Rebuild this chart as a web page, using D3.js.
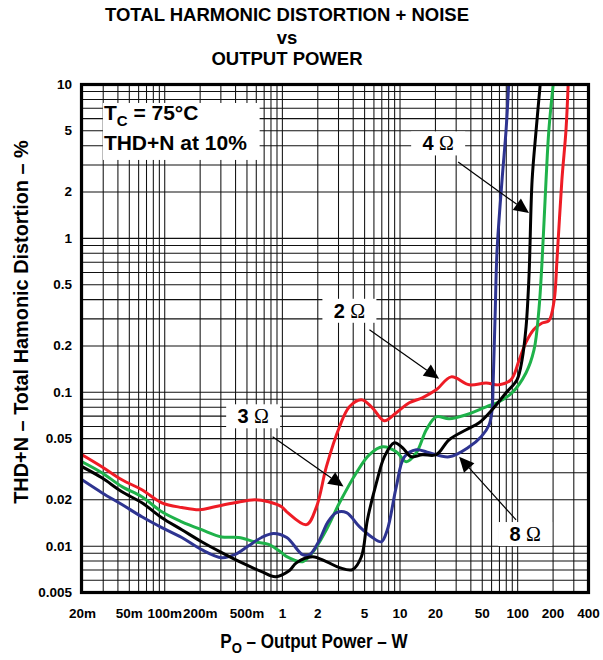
<!DOCTYPE html>
<html>
<head>
<meta charset="utf-8">
<script src="https://cdn.jsdelivr.net/npm/d3@7"></script>
<style>
  html, body { margin: 0; padding: 0; background: #fff; }
  svg { display: block; }
  text { font-family: "Liberation Sans", Arial, Helvetica, sans-serif; }
</style>
</head>
<body>
<div id="chart"></div>
<script>
// ---------- data ----------
const titleLines = ["TOTAL HARMONIC DISTORTION + NOISE", "vs", "OUTPUT POWER"];
const xTicks = [0.02, 0.05, 0.1, 0.2, 0.5, 1, 2, 5, 10, 20, 50, 100, 200, 400];
const xTickLabels = ["20m", "50m", "100m", "200m", "500m", "1", "2", "5", "10", "20", "50", "100", "200", "400"];
const yTicks = [10, 5, 2, 1, 0.5, 0.2, 0.1, 0.05, 0.02, 0.01, 0.005];
const yTickLabels = ["10", "5", "2", "1", "0.5", "0.2", "0.1", "0.05", "0.02", "0.01", "0.005"];

// 2 ohm (red)
const p2 = [0.02, 0.0295, 0.0437, 0.0646, 0.0954, 0.141, 0.200, 0.269, 0.397, 0.587, 0.771, 0.994, 1.10, 1.62, 1.97, 2.39, 3.09, 3.75, 4.74, 5.88, 7.43, 9.39, 12.1, 15.6, 20.5, 27.5, 39.1, 54.5, 70.2, 88.8, 104, 119, 139, 163, 186, 206, 218, 240, 260, 272];
const thd2 = [0.0390, 0.0326, 0.0268, 0.0231, 0.0190, 0.0177, 0.0171, 0.0179, 0.0190, 0.0199, 0.0193, 0.0179, 0.0166, 0.0137, 0.0179, 0.0326, 0.0593, 0.0799, 0.0887, 0.0787, 0.0648, 0.0731, 0.0848, 0.0914, 0.103, 0.125, 0.111, 0.114, 0.111, 0.120, 0.161, 0.210, 0.255, 0.280, 0.290, 0.39, 0.72, 2.38, 5.03, 10.5];
// 3 ohm (green)
const p3 = [0.02, 0.0295, 0.0437, 0.0646, 0.0954, 0.141, 0.208, 0.308, 0.429, 0.587, 0.771, 0.994, 1.10, 1.50, 1.82, 2.39, 3.09, 4.30, 5.55, 7.15, 9.39, 11.4, 13.9, 16.9, 20.5, 26.4, 36.9, 54.5, 70.2, 90.5, 119, 139, 153, 163, 176, 186, 204];
const thd3 = [0.0351, 0.0298, 0.0242, 0.0208, 0.0166, 0.0143, 0.0127, 0.0114, 0.0113, 0.0106, 0.0102, 0.00901, 0.00848, 0.00787, 0.00901, 0.0127, 0.0190, 0.0298, 0.0390, 0.0439, 0.0408, 0.0351, 0.0402, 0.0567, 0.0688, 0.0668, 0.0709, 0.0799, 0.0861, 0.0985, 0.133, 0.187, 0.341, 0.720, 2.38, 5.03, 10.5];
// 4 ohm (black)
const p4 = [0.02, 0.0295, 0.0437, 0.0646, 0.0954, 0.141, 0.208, 0.308, 0.455, 0.673, 0.884, 1.16, 1.33, 1.82, 2.39, 3.09, 3.98, 4.74, 5.33, 6.36, 7.43, 9.03, 10.6, 12.6, 15.6, 20.5, 26.4, 36.9, 47.5, 61.2, 80.5, 99.8, 110, 119, 126, 134, 145, 158];
const thd4 = [0.0326, 0.0276, 0.0224, 0.0190, 0.0152, 0.0127, 0.0106, 0.00901, 0.00775, 0.00678, 0.00629, 0.00690, 0.00775, 0.00848, 0.00787, 0.00720, 0.00699, 0.00848, 0.0147, 0.0256, 0.0378, 0.0466, 0.0433, 0.0378, 0.0390, 0.0390, 0.0488, 0.0567, 0.0629, 0.0764, 0.0985, 0.120, 0.161, 0.264, 0.558, 2.38, 5.03, 10.5];
// 8 ohm (blue)
const p8 = [0.02, 0.0295, 0.0437, 0.0646, 0.0954, 0.141, 0.208, 0.308, 0.397, 0.522, 0.673, 0.850, 1.10, 1.50, 1.72, 2.09, 2.44, 2.91, 3.54, 4.56, 5.88, 7.01, 7.88, 9.39, 11.0, 13.9, 17.9, 26.4, 39.1, 49.4, 57.8, 61.2, 62.5, 64.9, 67.5, 74.4, 80.5, 85];
const thd8 = [0.0268, 0.0221, 0.0185, 0.0154, 0.0131, 0.0113, 0.00942, 0.00836, 0.00874, 0.0100, 0.0113, 0.0120, 0.0113, 0.00874, 0.00874, 0.0109, 0.0141, 0.0164, 0.0164, 0.0133, 0.0113, 0.0106, 0.0127, 0.0242, 0.0378, 0.0420, 0.0402, 0.0378, 0.0439, 0.0510, 0.0611, 0.0764, 0.114, 0.307, 0.836, 2.38, 5.03, 10.5];

const seriesNames = ["2 Ω", "3 Ω", "8 Ω", "4 Ω"];
const seriesColors = ["#ee1c25", "#1fb24a", "#2e3491", "#000000"];

// annotation anchors in data units
const annotNumbers = ["2", "3", "4", "8"];
const annotLabelP = [3.75, 0.57, 21.3, 117];
const annotLabelT = [0.336, 0.0693, 4.11, 0.0119];
const annotStartP = [5.55, 0.834, 31.5, 97.9];
const annotStartT = [0.253, 0.0510, 3.11, 0.0147];
const annotTipP = [21.7, 3.34, 126, 32.1];
const annotTipT = [0.1215, 0.0242, 1.45, 0.0378];

const condLines = ["T", "C", " = 75°C", "THD+N at 10%"];
const xTitle = ["P", "O", " – Output Power – W"];
const yTitle = "THD+N – Total Hamonic Distortion – %";

// ---------- layout ----------
const W = 603, H = 660;
const L = 82, R = 588, T = 84, B = 592;

const svg = d3.select("#chart").append("svg").attr("width", W).attr("height", H);

const x = d3.scaleLog().domain([0.02, 400]).range([L, R]);
const y = d3.scaleLog().domain([0.005, 10]).range([B, T]);

// grid values
const xGrid = [];
[0.01, 0.1, 1, 10, 100].forEach(d => { for (let k = 1; k <= 9; k++) { const v = +(d * k).toPrecision(3); if (v >= 0.02 && v <= 400) xGrid.push(v); } });
const yGrid = [];
[0.001, 0.01, 0.1, 1].forEach(d => { for (let k = 1; k <= 9; k++) { const v = +(d * k).toPrecision(3); if (v >= 0.005 && v <= 10) yGrid.push(v); } });

// grid via axes
svg.append("g").attr("transform", `translate(0,${B})`)
  .call(d3.axisBottom(x).tickValues(xGrid).tickSize(-(B - T)).tickFormat(""))
  .call(g => g.select(".domain").remove())
  .call(g => g.selectAll("line").attr("stroke", "#111").attr("stroke-width", 1.05));
svg.append("g").attr("transform", `translate(${L},0)`)
  .call(d3.axisLeft(y).tickValues(yGrid).tickSize(-(R - L)).tickFormat(""))
  .call(g => g.select(".domain").remove())
  .call(g => g.selectAll("line").attr("stroke", "#111").attr("stroke-width", 1.05));

// tick labels via axes
svg.append("g").attr("transform", `translate(0,${B})`)
  .call(d3.axisBottom(x).tickValues(xTicks).tickSize(0).tickPadding(16).tickFormat((d, i) => xTickLabels[i]))
  .call(g => g.select(".domain").remove())
  .call(g => g.selectAll("text").attr("font-size", 13.5).attr("font-weight", "bold").attr("fill", "#000")
    .attr("font-family", '"Liberation Sans", Arial, sans-serif'));
svg.append("g").attr("transform", `translate(${L},0)`)
  .call(d3.axisLeft(y).tickValues(yTicks).tickSize(0).tickPadding(10).tickFormat((d, i) => yTickLabels[i]))
  .call(g => g.select(".domain").remove())
  .call(g => g.selectAll("text").attr("font-size", 13.5).attr("font-weight", "bold").attr("fill", "#000")
    .attr("font-family", '"Liberation Sans", Arial, sans-serif'));

// clip
svg.append("clipPath").attr("id", "plotclip").append("rect")
  .attr("x", L).attr("y", T).attr("width", R - L).attr("height", B - T);

// conditions box
const cb = svg.append("g");
cb.append("rect").attr("x", x(0.0301)).attr("y", y(7.53)).attr("width", x(0.647) - x(0.0301)).attr("height", y(3.21) - y(7.53)).attr("fill", "#fff");
const t1 = cb.append("text").attr("x", x(0.0301) + 1).attr("y", y(7.53) + 17).attr("font-size", 21).attr("font-weight", "bold");
t1.append("tspan").text(condLines[0]);
t1.append("tspan").attr("dy", 6).attr("font-size", 15).text(condLines[1]);
t1.append("tspan").attr("dy", -6).text(condLines[2]);
cb.append("text").attr("x", x(0.0301) + 1).attr("y", y(7.53) + 47).attr("font-size", 21).attr("font-weight", "bold").text(condLines[3]);

// curves (drawn red, green, blue, black)
const pSets = [p2, p3, p8, p4];
const tSets = [thd2, thd3, thd8, thd4];
const lineX = d3.line().x(d => x(d[0])).y(d => y(d[1])).curve(d3.curveCatmullRom.alpha(0.5));
const cg = svg.append("g").attr("clip-path", "url(#plotclip)");
pSets.forEach((ps, i) => {
  const pts = ps.map((p, j) => [p, tSets[i][j]]);
  cg.append("path").attr("d", lineX(pts)).attr("fill", "none")
    .attr("stroke", seriesColors[i]).attr("stroke-width", 3)
    .attr("stroke-linejoin", "round").attr("stroke-linecap", "round");
});

// frame
svg.append("rect").attr("x", L - 0.5).attr("y", T + 0.5).attr("width", R - L + 1).attr("height", B - T)
  .attr("fill", "none").attr("stroke", "#000").attr("stroke-width", 3.2);

// annotations
annotNumbers.forEach((n, i) => {
  const sx = x(annotStartP[i]), sy = y(annotStartT[i]);
  const tx = x(annotTipP[i]), ty = y(annotTipT[i]);
  const ang = Math.atan2(ty - sy, tx - sx);
  const hl = 15, hw = 7;
  const bx = tx - hl * Math.cos(ang), by = ty - hl * Math.sin(ang);
  svg.append("line").attr("x1", sx).attr("y1", sy).attr("x2", bx).attr("y2", by)
    .attr("stroke", "#000").attr("stroke-width", 1.2);
  const px = -Math.sin(ang), py = Math.cos(ang);
  svg.append("polygon").attr("points", [[tx, ty], [bx + hw * px, by + hw * py], [bx - hw * px, by - hw * py]].map(p => p.join(",")).join(" "))
    .attr("fill", "#000");
  const cx = x(annotLabelP[i]), cy = y(annotLabelT[i]);
  svg.append("rect").attr("x", cx - 27).attr("y", cy - 12).attr("width", 54).attr("height", 24).attr("fill", "#fff");
  const tt = svg.append("text").attr("x", cx).attr("y", cy + 7).attr("text-anchor", "middle").attr("font-size", 20);
  tt.append("tspan").attr("font-weight", "bold").text(n + " ");
  tt.append("tspan").attr("font-family", '"Liberation Serif", "Times New Roman", serif').text("Ω");
});

// title
const titleY = [21, 44, 65];
titleLines.forEach((s, i) => {
  svg.append("text").attr("x", 287).attr("y", titleY[i]).attr("text-anchor", "middle")
    .attr("font-size", 18.5).attr("font-weight", "bold").text(s);
});

// x title (slightly condensed)
const xt = svg.append("text").attr("transform", "translate(314,648) scale(0.875,1)").attr("text-anchor", "middle")
  .attr("font-size", 19.5).attr("font-weight", "bold");
xt.append("tspan").text(xTitle[0]);
xt.append("tspan").attr("dy", 5).attr("font-size", 15).text(xTitle[1]);
xt.append("tspan").attr("dy", -5).text(xTitle[2]);

// y title
svg.append("text").attr("transform", "translate(28,322) rotate(-90) scale(0.97,1)").attr("text-anchor", "middle")
  .attr("font-size", 20.5).attr("font-weight", "bold").text(yTitle);
</script>
</body>
</html>
